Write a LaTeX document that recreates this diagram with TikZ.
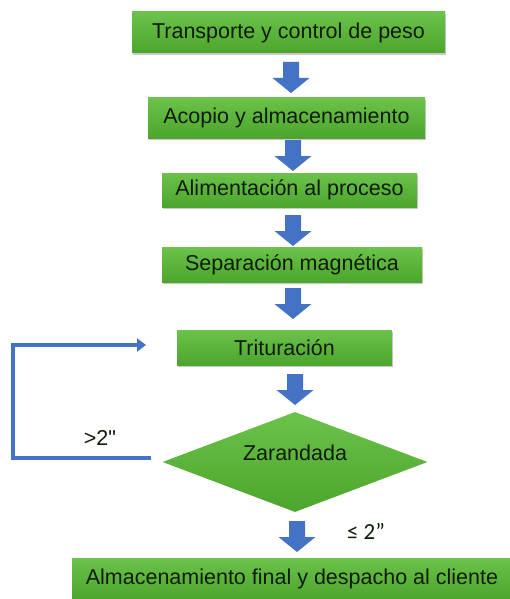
\documentclass[tikz,border=0pt]{standalone}
\usepackage{fontspec}
\setmainfont{Liberation Sans}
\newfontfamily\rawfont{Liberation Sans}[Ligatures=ResetAll]
\newfontfamily\calfont{Carlito}
\usetikzlibrary{shapes.geometric,shadows,arrows.meta}
\definecolor{boxgreentop}{HTML}{6CC24A}
\definecolor{boxgreenbot}{HTML}{4CA52C}
\definecolor{txtdark}{HTML}{0E1C09}
\definecolor{flowblue}{HTML}{4472C4}
\tikzset{
  gbox/.style={rectangle, draw=none, top color=boxgreentop, bottom color=boxgreenbot,
    text=txtdark, font=\fontsize{21.5}{24}\selectfont, inner sep=0pt,
    drop shadow={shadow xshift=1pt, shadow yshift=-2pt, opacity=0.35, fill=black!60}},
  gdiam/.style={diamond, draw=none, top color=boxgreentop, bottom color=boxgreenbot,
    text=txtdark, font=\fontsize{21.5}{24}\selectfont, inner sep=0pt, aspect=2.65,
    minimum width=265pt, minimum height=100pt},
  blockarrow/.style={fill=flowblue, draw=none},
  feedback/.style={draw=flowblue, line width=3.2pt, -{Triangle[length=9pt,width=13pt]}},
  lbl/.style={text=txtdark, inner sep=0pt}
}
\newcommand\blkarrow[2]{% x, ytop
  \fill[blockarrow] (#1-8,#2) -- (#1+8,#2) -- (#1+8,#2+16) -- (#1+18.5,#2+16)
    -- (#1,#2+31) -- (#1-18.5,#2+16) -- (#1-8,#2+16) -- cycle;}
\begin{document}
\begin{tikzpicture}[x=1pt,y=-1pt]
\useasboundingbox (0,0) rectangle (509,599);
\node[gbox, minimum width=313pt, minimum height=41pt] (b1) at (288.5,32.5) {Transporte y control de peso};
\node[gbox, minimum width=277pt, minimum height=40pt] (b2) at (286.5,118) {Acopio y almacenamiento};
\node[gbox, minimum width=255pt, minimum height=34pt] (b3) at (289.5,190) {Alimentación al proceso};
\node[gbox, minimum width=260pt, minimum height=35pt] (b4) at (292,264.5) {Separación magnética};
\node[gbox, minimum width=215pt, minimum height=35pt] (b5) at (284.5,347.5) {Trituración};
\node[gdiam] (zar) at (295,462) {\raisebox{18pt}{Zarandada}};
\node[gbox, minimum width=440pt, minimum height=41pt] (b6) at (292,578.5) {Almacenamiento final y despacho al cliente};
\blkarrow{291}{62}
\blkarrow{293}{140}
\blkarrow{293}{215}
\blkarrow{293}{288}
\blkarrow{295}{374}
\blkarrow{297}{521}
\coordinate (fbstart) at (151,458);
\coordinate (fbend) at (146,345);
\draw[feedback] (fbstart) -- (13,458) |- (fbend);
\node[lbl, font=\rawfont\fontsize{21.5}{24}\selectfont] (gt) at (100,437.5) {>2"};
\node[lbl, font=\calfont\fontsize{23}{26}\selectfont] (le) at (366,531) {≤ 2”};
\end{tikzpicture}
\end{document}
